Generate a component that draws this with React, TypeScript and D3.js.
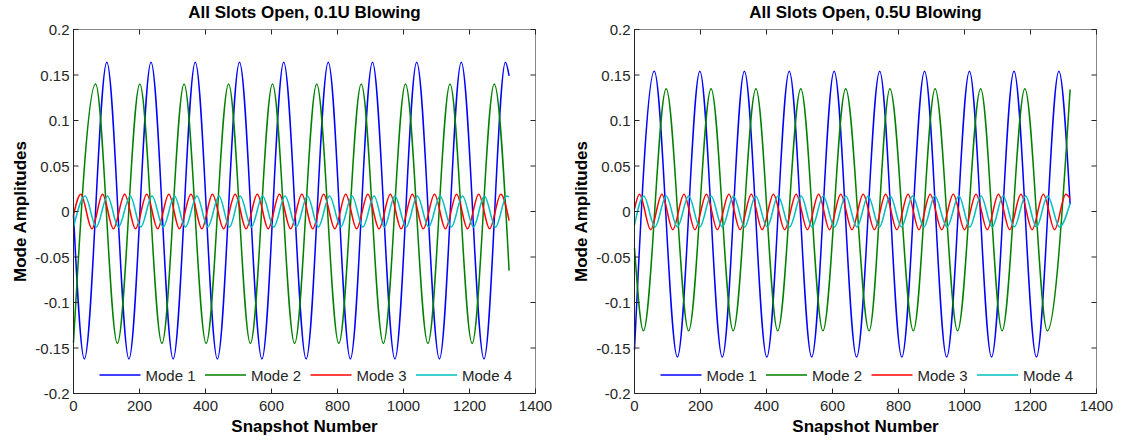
import React from "react";
import * as d3 from "d3";

type Pt = [number, number];

// Snapshot axis ticks and amplitude ticks
const xTicks = [0, 200, 400, 600, 800, 1000, 1200, 1400];
const yTicks = [-0.2, -0.15, -0.1, -0.05, 0, 0.05, 0.1, 0.15, 0.2];
const seriesNames = ["Mode 1", "Mode 2", "Mode 3", "Mode 4"];
const seriesColors = ["#0000ff", "#008000", "#ff0000", "#00bfbf"];
const titles = ["All Slots Open, 0.1U Blowing", "All Slots Open, 0.5U Blowing"];

// Left panel (0.1U) — extrema [snapshot, amplitude]
const left_mode1: Pt[] = [
  [0, -0.004], [33, -0.162], [101, 0.164], [168, -0.162], [235, 0.164], [302, -0.162],
  [369, 0.164], [436, -0.162], [503, 0.164], [571, -0.162], [637, 0.164], [705, -0.162],
  [772, 0.164], [839, -0.162], [906, 0.164], [974, -0.162], [1040, 0.164], [1109, -0.162],
  [1175, 0.164], [1244, -0.162], [1309, 0.164], [1320, 0.149],
];
const left_mode2: Pt[] = [
  [0, -0.144], [67, 0.14], [133, -0.145], [201, 0.14], [268, -0.145], [335, 0.14],
  [402, -0.145], [470, 0.14], [536, -0.145], [603, 0.14], [670, -0.145], [737, 0.14],
  [804, -0.145], [872, 0.14], [939, -0.145], [1006, 0.14], [1074, -0.145], [1141, 0.14],
  [1208, -0.145], [1275, 0.14], [1320, -0.065],
];
const left_mode3: Pt[] = [
  [0, -0.004], [22, 0.019], [56, -0.019], [88, 0.019], [121, -0.019], [155, 0.019],
  [188, -0.019], [222, 0.019], [255, -0.019], [289, 0.019], [321, -0.019], [356, 0.019],
  [389, -0.019], [421, 0.019], [455, -0.019], [490, 0.019], [523, -0.019], [557, 0.019],
  [590, -0.019], [624, 0.019], [658, -0.019], [692, 0.019], [725, -0.019], [758, 0.019],
  [792, -0.019], [825, 0.019], [858, -0.019], [892, 0.019], [926, -0.019], [960, 0.019],
  [993, -0.019], [1027, 0.019], [1060, -0.019], [1094, 0.019], [1127, -0.019], [1161, 0.019],
  [1194, -0.019], [1228, 0.019], [1261, -0.019], [1295, 0.019], [1320, -0.01],
];
const left_mode4: Pt[] = [
  [0, -0.017], [35, 0.017], [69, -0.017], [103, 0.017], [136, -0.017], [172, 0.017],
  [204, -0.017], [238, 0.017], [272, -0.017], [306, 0.017], [339, -0.017], [374, 0.017],
  [407, -0.017], [441, 0.017], [473, -0.017], [505, 0.017], [539, -0.017], [573, 0.017],
  [607, -0.017], [641, 0.017], [675, -0.017], [709, 0.017], [742, -0.017], [776, 0.017],
  [810, -0.017], [844, 0.017], [877, -0.017], [911, 0.017], [942, -0.017], [974, 0.017],
  [1008, -0.017], [1042, 0.017], [1076, -0.017], [1111, 0.017], [1145, -0.017], [1179, 0.017],
  [1212, -0.017], [1245, 0.017], [1279, -0.017], [1313, 0.017], [1320, 0.016],
];

// Right panel (0.5U)
const right_mode1: Pt[] = [
  [0, -0.152], [60, 0.154], [130, -0.16], [198, 0.154], [266, -0.16], [333, 0.154],
  [401, -0.16], [469, 0.154], [537, -0.16], [605, 0.154], [673, -0.16], [743, 0.154],
  [810, -0.16], [879, 0.154], [946, -0.16], [1015, 0.154], [1082, -0.16], [1150, 0.154],
  [1218, -0.16], [1286, 0.154], [1320, 0.008],
];
const right_mode2: Pt[] = [
  [0, -0.04], [27, -0.131], [96, 0.135], [164, -0.131], [232, 0.135], [299, -0.131],
  [368, 0.135], [434, -0.131], [504, 0.135], [571, -0.131], [640, 0.135], [711, -0.131],
  [774, 0.135], [845, -0.131], [911, 0.135], [979, -0.131], [1049, 0.135], [1114, -0.131],
  [1183, 0.135], [1251, -0.131], [1320, 0.134],
];
const right_mode3: Pt[] = [
  [0, 0.003], [15, 0.019], [49, -0.02], [83, 0.019], [116, -0.02], [150, 0.019],
  [183, -0.02], [218, 0.019], [251, -0.02], [286, 0.019], [320, -0.02], [354, 0.019],
  [387, -0.02], [421, 0.019], [455, -0.02], [490, 0.019], [524, -0.02], [558, 0.019],
  [591, -0.02], [625, 0.019], [659, -0.02], [693, 0.019], [727, -0.02], [761, 0.019],
  [795, -0.02], [829, 0.019], [862, -0.02], [896, 0.019], [931, -0.02], [966, 0.019],
  [1000, -0.02], [1035, 0.019], [1069, -0.02], [1103, 0.019], [1137, -0.02], [1171, 0.019],
  [1205, -0.02], [1239, 0.019], [1273, -0.02], [1307, 0.019], [1320, 0.014],
];
const right_mode4: Pt[] = [
  [0, -0.015], [28, 0.017], [62, -0.017], [96, 0.017], [130, -0.017], [164, 0.017],
  [198, -0.017], [232, 0.017], [266, -0.017], [300, 0.017], [334, -0.017], [367, 0.017],
  [402, -0.017], [435, 0.017], [470, -0.017], [505, 0.017], [538, -0.017], [572, 0.017],
  [606, -0.017], [640, 0.017], [674, -0.017], [708, 0.017], [742, -0.017], [775, 0.017],
  [809, -0.017], [843, 0.017], [877, -0.017], [910, 0.017], [947, -0.017], [983, 0.017],
  [1016, -0.017], [1050, 0.017], [1084, -0.017], [1117, 0.017], [1151, -0.017], [1185, 0.017],
  [1218, -0.017], [1252, 0.017], [1288, -0.017], [1320, 0.009],
];

const panels = [
  { title: titles[0], series: [left_mode1, left_mode2, left_mode3, left_mode4], x0: 73.5, x1: 535.5 },
  { title: titles[1], series: [right_mode1, right_mode2, right_mode3, right_mode4], x0: 634.5, x1: 1096.5 },
];

const TOP = 29.5;
const BOTTOM = 393.5;
const FONT = "'Liberation Sans', Arial, Helvetica, sans-serif";
const AXIS = "#262626";
const BOX = "#888888";

function fmt(v: number) {
  const r = Math.round(v * 100) / 100;
  return String(r);
}

function Panel({ p }: { p: (typeof panels)[number] }) {
  const x = d3.scaleLinear().domain([0, 1400]).range([p.x0, p.x1]);
  const y = d3.scaleLinear().domain([-0.2, 0.2]).range([BOTTOM, TOP]);
  const line = d3
    .line<Pt>()
    .x((d) => x(d[0]))
    .y((d) => y(d[1]))
    .curve(d3.curveMonotoneX);
  const cx = (p.x0 + p.x1) / 2;
  const legendStart = p.x0 + 26;
  const legendStep = 105.5;
  const legendY = 375;
  const tl = 5;
  return (
    <g>
      <rect x={p.x0} y={TOP} width={p.x1 - p.x0} height={BOTTOM - TOP} fill="#fff" />
      <g>
        {p.series.map((s, i) => (
          <path key={i} d={line(s) || ""} fill="none" stroke={seriesColors[i]} strokeWidth={1.5} />
        ))}
      </g>
      {/* box */}
      <rect x={p.x0} y={TOP} width={p.x1 - p.x0} height={BOTTOM - TOP} fill="none" stroke={BOX} strokeWidth={1} />
      <line x1={p.x0} x2={p.x0} y1={TOP} y2={BOTTOM} stroke={AXIS} />
      <line x1={p.x0} x2={p.x1} y1={BOTTOM} y2={BOTTOM} stroke={AXIS} />
      {/* ticks */}
      {xTicks.map((t) => (
        <g key={"x" + t}>
          <line x1={x(t)} x2={x(t)} y1={BOTTOM} y2={BOTTOM - tl} stroke={AXIS} />
          <line x1={x(t)} x2={x(t)} y1={TOP} y2={TOP + tl} stroke={AXIS} />
          <text x={x(t)} y={BOTTOM + 17.5} textAnchor="middle" fontSize={15} fill={AXIS} fontFamily={FONT}>
            {t}
          </text>
        </g>
      ))}
      {yTicks.map((t) => (
        <g key={"y" + t}>
          <line x1={p.x0} x2={p.x0 + tl} y1={y(t)} y2={y(t)} stroke={AXIS} />
          <line x1={p.x1} x2={p.x1 - tl} y1={y(t)} y2={y(t)} stroke={AXIS} />
          <text x={p.x0 - 4} y={y(t) + 5.5} textAnchor="end" fontSize={15} fill={AXIS} fontFamily={FONT}>
            {fmt(t)}
          </text>
        </g>
      ))}
      {/* legend */}
      {seriesNames.map((n, i) => (
        <g key={n}>
          <line
            x1={legendStart + i * legendStep}
            x2={legendStart + i * legendStep + 41}
            y1={legendY}
            y2={legendY}
            stroke={seriesColors[i]}
            strokeWidth={1.5}
          />
          <text x={legendStart + i * legendStep + 46} y={legendY + 5.5} fontSize={15} fill={AXIS} fontFamily={FONT}>
            {n}
          </text>
        </g>
      ))}
      {/* labels */}
      <text x={cx} y={17.5} textAnchor="middle" fontSize={17} fontWeight="bold" fill="#000" fontFamily={FONT}>
        {p.title}
      </text>
      <text x={cx} y={432} textAnchor="middle" fontSize={17} fontWeight="bold" fill="#000" fontFamily={FONT}>
        Snapshot Number
      </text>
      <text
        transform={`translate(${p.x0 - 48},${(TOP + BOTTOM) / 2}) rotate(-90)`}
        textAnchor="middle"
        fontSize={17}
        fontWeight="bold"
        fill="#000"
        fontFamily={FONT}
      >
        Mode Amplitudes
      </text>
    </g>
  );
}

export default function App() {
  return (
    <svg
      width={1126}
      height={441}
      style={{ position: "absolute", left: 0, top: 0, background: "#fff" }}
    >
      <rect width={1126} height={441} fill="#fff" />
      {panels.map((p, i) => (
        <Panel key={i} p={p} />
      ))}
    </svg>
  );
}
